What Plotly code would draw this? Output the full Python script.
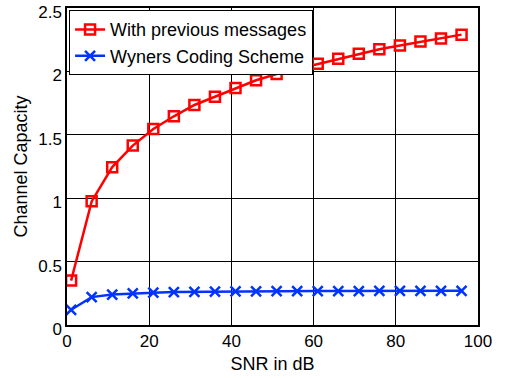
import plotly.graph_objects as go

snr = [1, 6, 11, 16, 21, 26, 31, 36, 41, 46, 51, 56, 61, 66, 71, 76, 81, 86, 91, 96]
with_prev = [0.35, 0.975, 1.245, 1.415, 1.546, 1.646, 1.735, 1.80, 1.87, 1.93,
             1.98, 2.02, 2.06, 2.10, 2.14, 2.175, 2.205, 2.235, 2.26, 2.29]
wyner = [0.12, 0.22, 0.24, 0.25, 0.255, 0.26, 0.262, 0.264, 0.265, 0.266,
         0.267, 0.267, 0.268, 0.268, 0.268, 0.269, 0.269, 0.269, 0.27, 0.27]

FONT = "Liberation Sans, Arial"

fig = go.Figure()
fig.add_trace(go.Scatter(x=snr, y=with_prev, mode="lines+markers", name="With previous messages",
                         line=dict(color="#ff0000", width=2.5),
                         marker=dict(symbol="square-open", size=10, color="#ff0000", line=dict(width=2.5, color="#ff0000"))))
fig.add_trace(go.Scatter(x=snr, y=wyner, mode="lines+markers", name="Wyners Coding Scheme",
                         line=dict(color="#0033ff", width=2.5),
                         marker=dict(symbol="x-thin-open", size=10, color="#0033ff", line=dict(width=2.5, color="#0033ff"))))

axis_common = dict(showline=True, linecolor="black", linewidth=1.5, mirror=True,
                   showgrid=True, gridcolor="black", gridwidth=1, zeroline=False,
                   ticks="inside", ticklen=4, tickcolor="black", automargin=False,
                   ticklabeloverflow="allow",
                   tickfont=dict(family=FONT, size=17, color="black"))
fig.update_xaxes(range=[0, 100], tickvals=[0, 20, 40, 60, 80, 100],
                 title=dict(text="SNR in dB", font=dict(family=FONT, size=18, color="black"), standoff=7),
                 **axis_common)
fig.update_yaxes(range=[0, 2.5], tickvals=[0, 0.5, 1, 1.5, 2, 2.5], ticktext=["0", "0.5", "1", "1.5", "2", "2.5"],
                 ticklabelshift=4,
                 title=dict(text="Channel Capacity", font=dict(family=FONT, size=18, color="black"), standoff=6),
                 **axis_common)
fig.update_layout(width=505, height=378, margin=dict(l=67, r=27, t=8, b=53),
                  paper_bgcolor="white", plot_bgcolor="white",
                  font=dict(family=FONT, color="black"),
                  legend=dict(x=0.005, y=0.993, xanchor="left", yanchor="top",
                              bgcolor="white", bordercolor="black", borderwidth=1,
                              font=dict(size=18, color="black"), tracegroupgap=0,
                              itemwidth=30))
fig.write_html("out.html", config={"displayModeBar": False},
               post_script="document.body.style.margin='0px';")
